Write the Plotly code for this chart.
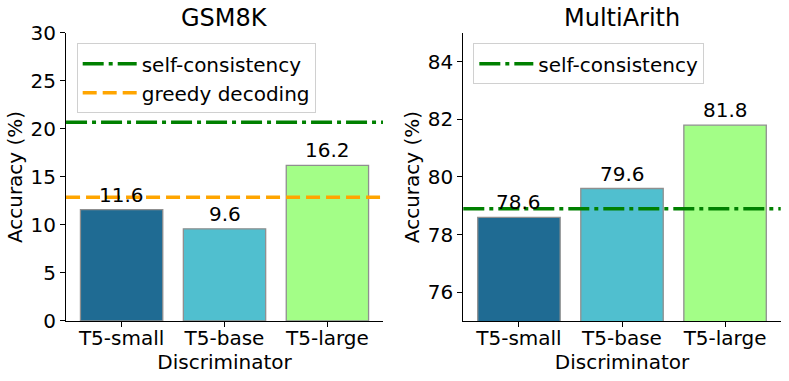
import plotly.graph_objects as go
from plotly.subplots import make_subplots

# data
discriminators = ["T5-small", "T5-base", "T5-large"]
gsm8k_acc = [11.6, 9.6, 16.2]
multiarith_acc = [78.6, 79.6, 81.8]
gsm8k_self_consistency = 20.7
gsm8k_greedy = 12.9
multiarith_self_consistency = 78.9

bar_colors = ["#1f6b93", "#50bfcf", "#a3fe87"]
FONT = "DejaVu Sans"

fig = make_subplots(rows=1, cols=2)

panels = [
    (1, "GSM8K", gsm8k_acc, [0, 30], [0, 5, 10, 15, 20, 25, 30]),
    (2, "MultiArith", multiarith_acc, [75, 85], [76, 78, 80, 82, 84]),
]

for col, title, values, yrange, yticks in panels:
    fig.add_trace(go.Bar(
        x=discriminators,
        y=values,
        width=0.8,
        marker=dict(color=bar_colors, line=dict(color="#8f8f8f", width=1.3)),
        showlegend=False,
        hoverinfo="x+y",
    ), row=1, col=col)

    # value labels (annotations so they sit above the reference lines)
    xref = "x" if col == 1 else "x2"
    yref = "y" if col == 1 else "y2"
    for cat, val in zip(discriminators, values):
        fig.add_annotation(
            x=cat, y=val, xref=xref, yref=yref,
            text=f"{val:.1f}", showarrow=False,
            yanchor="bottom", yshift=1,
            font=dict(family=FONT, size=20, color="black"),
        )

    # subplot title
    fig.add_annotation(
        x=0.5, y=1, xref=f"{xref} domain", yref=f"{yref} domain",
        text=title, showarrow=False, yanchor="bottom", yshift=-1,
        font=dict(family=FONT, size=24, color="black"),
    )

    fig.update_yaxes(
        range=yrange, tickvals=yticks, row=1, col=col,
        showgrid=False, zeroline=False, automargin=False,
        showline=True, linecolor="black", linewidth=1.2,
        ticks="outside", ticklen=5, tickwidth=1.2, tickcolor="black",
        tickfont=dict(family=FONT, size=20, color="black"),
        title=dict(text="Accuracy (%)", standoff=2,
                   font=dict(family=FONT, size=20, color="black")),
    )
    fig.update_xaxes(
        type="category", range=[-0.54, 2.54], row=1, col=col,
        showgrid=False, zeroline=False, automargin=False,
        showline=True, linecolor="black", linewidth=1.2,
        ticks="outside", ticklen=5, tickwidth=1.2, tickcolor="black",
        ticklabelstandoff=-6,
        tickfont=dict(family=FONT, size=20, color="black"),
        title=dict(text="Discriminator", standoff=0,
                   font=dict(family=FONT, size=20, color="black")),
    )

# reference lines
fig.add_hline(y=gsm8k_self_consistency, row=1, col=1,
              line=dict(color="green", width=3.5, dash="21px,5px,4px,5px"),
              name="self-consistency", showlegend=True, legend="legend")
fig.add_hline(y=gsm8k_greedy, row=1, col=1,
              line=dict(color="orange", width=3.5, dash="14px,6px"),
              name="greedy decoding", showlegend=True, legend="legend")
fig.add_hline(y=multiarith_self_consistency, row=1, col=2,
              line=dict(color="green", width=3.5, dash="21px,5px,4px,5px"),
              name="self-consistency", showlegend=True, legend="legend2")

legend_style = dict(
    bgcolor="rgba(255,255,255,0.8)", bordercolor="#d0d0d0", borderwidth=1,
    font=dict(family=FONT, size=20, color="black"),
    xanchor="left", yanchor="top", yref="paper", xref="paper",
    itemwidth=54,
)

fig.update_layout(
    width=789, height=381, autosize=False,
    margin=dict(l=0, r=0, t=0, b=0),
    plot_bgcolor="white", paper_bgcolor="white",
    font=dict(family=FONT, size=20, color="black"),
    xaxis=dict(domain=[0.0837, 0.4854]),
    xaxis2=dict(domain=[0.5872, 0.9895]),
    yaxis=dict(domain=[0.1575, 0.9134]),
    yaxis2=dict(domain=[0.1575, 0.9134]),
    legend=dict(x=0.0972, y=0.8864, **legend_style),
    legend2=dict(x=0.5999, y=0.8864, **legend_style),
    bargap=0.2,
)

# drop the default page margin so the figure starts at the window corner
fig.write_html("out.html", config={"displayModeBar": False},
               post_script="document.body.style.margin='0';")
